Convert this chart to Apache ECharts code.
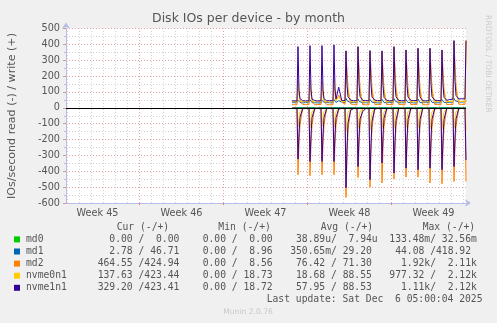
<!DOCTYPE html>
<html><head><meta charset="utf-8">
<script src="https://cdn.jsdelivr.net/npm/echarts@6/dist/echarts.min.js"></script>
<style>html,body{margin:0;padding:0;background:#f0f0f0;}#c{width:497px;height:323px;}</style>
</head><body><div id="c"></div>
<script>
// x values: days relative to Sun Nov 30 2025 00:00
const times = [
-8.29,
-7.875,-7.792,-7.708,-7.625,-7.4,-7.15,
-6.875,-6.792,-6.708,-6.625,-6.4,-6.15,
-5.875,-5.792,-5.708,-5.625,-5.4,-5.15,
-4.875,-4.792,-4.708,-4.625,-4.4,-4.15,
-3.875,-3.792,-3.708,-3.625,-3.4,-3.15,
-2.875,-2.792,-2.708,-2.625,-2.4,-2.15,
-1.875,-1.792,-1.708,-1.625,-1.4,-1.15,
-0.875,-0.792,-0.708,-0.625,-0.4,-0.15,
0.125,0.208,0.292,0.375,0.6,0.85,
1.125,1.208,1.292,1.375,1.6,1.85,
2.125,2.208,2.292,2.375,2.6,2.85,
3.125,3.208,3.292,3.375,3.6,3.85,
4.125,4.208,4.292,4.375,4.6,4.85,
5.125,5.208,5.292,5.375,5.6,5.85,
6.125,6.208];

const md0Times = [-8.29, 6.208];
const md0Read = [0, 0];
const md0Write = [0, 0];

const md1Read = [0.5,
0.2,3.1,1.4,0.7,0.3,0.2,
0.3,2.8,1.3,0.6,0.2,0.3,
0.2,3.4,1.5,0.8,0.3,0.2,
0.3,2.9,1.2,0.6,0.4,0.3,
0.4,4.2,1.9,0.9,0.3,0.2,
0.2,3.0,1.4,0.7,0.2,0.3,
0.3,3.6,1.6,0.8,0.3,0.2,
0.2,2.7,1.3,0.6,0.2,0.3,
0.3,3.2,1.5,0.7,0.3,0.2,
0.2,2.9,1.3,0.6,0.2,0.3,
0.3,3.1,1.4,0.7,0.3,0.2,
0.2,3.3,1.5,0.8,0.2,0.3,
0.3,3.0,1.4,0.6,0.3,0.2,
0.2,2.8,1.3,0.7,0.2,0.3,
0.3,2.78];
const md1Write = [33,
32,48,40,34,31,33,
33,50,41,33,32,31,
31,47,39,35,33,32,
32,52,42,34,45,36,
34,60,45,36,32,33,
33,55,42,34,31,32,
32,53,41,35,33,31,
31,54,42,33,32,33,
33,58,44,35,31,32,
32,52,41,34,33,31,
31,55,43,33,32,33,
33,54,42,35,31,32,
32,52,41,34,33,35,
36,60,45,38,37,36,
38,46.71];

const md2Read = [3,
4,422,230,105,6,4,
3,428,235,107,5,4,
4,422,232,105,6,3,
5,422,230,104,7,4,
4,565,310,140,8,5,
3,439,240,110,6,4,
4,500,275,125,7,3,
5,474,260,118,6,4,
4,449,245,112,5,3,
3,437,240,109,6,4,
4,437,240,110,5,4,
3,474,260,118,7,5,
4,479,263,120,6,3,
5,464,255,116,6,4,
4,464.55];
const md2Write = [20,
19,170,95,45,21,20,
20,175,98,44,19,21,
21,168,92,43,20,19,
20,180,100,47,80,38,
22,355,230,120,24,20,
20,380,245,125,21,19,
19,356,232,118,22,20,
21,354,228,116,20,21,
20,381,245,124,22,20,
19,360,235,118,21,20,
21,371,240,121,20,19,
20,371,240,122,22,21,
19,360,233,117,20,22,
21,419,270,138,23,22,
22,424.94];

const nvme0n1Read = [2,
3,120,60,25,4,3,
2,125,62,26,3,2,
3,118,58,24,4,3,
2,122,61,25,5,3,
3,150,75,30,6,4,
2,128,64,26,4,3,
3,140,70,28,5,2,
2,130,65,27,4,3,
3,126,63,26,3,2,
2,124,62,25,4,3,
3,127,63,26,3,2,
2,132,66,27,4,3,
3,135,67,28,5,3,
2,128,64,26,4,3,
3,137.63];
const nvme0n1Write = [38,
37,160,80,45,39,38,
38,165,82,44,37,39,
39,158,78,43,38,37,
38,170,85,46,70,40,
40,357,190,95,41,38,
38,383,200,100,39,37,
37,358,188,94,40,38,
39,356,186,93,38,39,
38,383,200,100,40,38,
37,362,190,95,39,38,
39,373,195,97,38,37,
38,373,195,98,40,39,
37,362,189,94,38,40,
39,421,220,110,41,40,
40,423.44];

const nvme1n1Read = [2,
3,323,160,60,5,3,
2,338,168,62,6,3,
3,338,165,61,5,2,
3,338,166,62,8,3,
4,504,250,95,15,4,
3,370,182,70,24,5,
4,453,225,85,8,3,
3,348,172,65,6,4,
4,411,205,78,5,3,
3,380,190,72,6,4,
4,390,195,74,5,3,
3,380,188,71,6,4,
4,390,193,73,5,3,
3,370,185,70,6,4,
4,329.20];
const nvme1n1Write = [44,
43,386,110,58,45,44,
44,392,115,55,46,43,
45,392,112,57,44,45,
44,397,118,56,130,47,
46,359,140,70,48,45,
45,386,150,72,47,46,
44,361,145,68,49,45,
46,359,140,66,47,44,
45,386,150,70,46,45,
44,365,142,68,47,46,
46,376,146,69,45,44,
45,376,147,70,48,46,
44,365,143,66,47,52,
55,424,165,78,56,57,
56,423.41];

const weekTicks = [-21, -14, -7, 0];
const dayTicks = [-27,-26,-25,-24,-23,-22,-20,-19,-18,-17,-16,-15,-13,-12,-11,-10,-9,-8,-6,-5,-4,-3,-2,-1,1,2,3,4,5,6];
const weekLabelPos = [-24.5, -17.5, -10.5, -3.5, 3.5];
const weekLabels = ['Week 45', 'Week 46', 'Week 47', 'Week 48', 'Week 49'];

const legendNames = ['md0', 'md1', 'md2', 'nvme0n1', 'nvme1n1'];
const legendColors = ['#00cc00', '#0066b3', '#ff8000', '#ffcc00', '#330099'];
const legendHeaders = ['Cur (-/+)', 'Min (-/+)', 'Avg (-/+)', 'Max (-/+)'];
const legendRows = [
  '  0.00 /  0.00    0.00 /  0.00    38.89u/  7.94u  133.48m/ 32.56m',
  '  2.78 / 46.71    0.00 /  8.96   350.65m/ 29.20    44.08 /418.92 ',
  '464.55 /424.94    0.00 /  8.56    76.42 / 71.30     1.92k/  2.11k',
  '137.63 /423.44    0.00 / 18.73    18.68 / 88.55   977.32 /  2.12k',
  '329.20 /423.41    0.00 / 18.72    57.95 / 88.53     1.11k/  2.12k'
];
const lastUpdate = 'Last update: Sat Dec  6 05:00:04 2025';

const chart = echarts.init(document.getElementById('c'), null, {renderer: 'canvas'});

function pairs(ts, vs, sign) { return ts.map((t, i) => [t, sign * vs[i]]); }

const seriesDefs = [
  ['md0', md0Times, md0Read, md0Write, legendColors[0]],
  ['md1', times, md1Read, md1Write, legendColors[1]],
  ['md2', times, md2Read, md2Write, legendColors[2]],
  ['nvme0n1', times, nvme0n1Read, nvme0n1Write, legendColors[3]],
  ['nvme1n1', times, nvme1n1Read, nvme1n1Write, legendColors[4]]
];
const series = [];
seriesDefs.forEach(([name, ts, rd, wr, col]) => {
  series.push({name: name + '_read', type: 'line', data: pairs(ts, rd, -1), showSymbol: false, symbol: 'none',
    lineStyle: {width: 1, color: col}, itemStyle: {color: col}, z: 2, animation: false});
  series.push({name: name + '_write', type: 'line', data: pairs(ts, wr, 1), showSymbol: false, symbol: 'none',
    lineStyle: {width: 1, color: col}, itemStyle: {color: col}, z: 2, animation: false});
});
// vertical grid lines
series[0].markLine = {silent: true, symbol: 'none', z: 1, animation: false, label: {show: false},
  data: dayTicks.map(v => ({xAxis: v, lineStyle: {color: '#d2d2d2', type: [1, 2], width: 1}}))
    .concat(weekTicks.map(v => ({xAxis: v, lineStyle: {color: '#e8a0a0', type: [1, 2], width: 1}})))};
// zero line
series[1].markLine = {silent: true, symbol: 'none', animation: false, label: {show: false},
  data: [{yAxis: 0, lineStyle: {color: '#000', type: 'solid', width: 1}}]};

const txt = '#555';
const graphic = [
  {type: 'text', x: 248.5, y: 19, style: {text: 'Disk IOs per device - by month', font: '12.5px "DejaVu Sans"', fill: txt, align: 'center', verticalAlign: 'middle', textAlign: 'center', textVerticalAlign: 'middle'}},
  {type: 'text', x: 12, y: 116, rotation: Math.PI / 2, style: {text: 'IOs/second read (-) / write (+)', font: '11.1px "DejaVu Sans"', fill: txt, align: 'center', verticalAlign: 'middle', textAlign: 'center', textVerticalAlign: 'middle'}},
  {type: 'text', x: 487.5, y: 64, rotation: -Math.PI / 2, style: {text: 'RRDTOOL / TOBI OETIKER', font: '7.6px "DejaVu Sans"', fill: '#cccccc', align: 'center', verticalAlign: 'middle', textAlign: 'center', textVerticalAlign: 'middle'}},
  {type: 'text', x: 248, y: 311.7, style: {text: 'Munin 2.0.76', font: '7.6px "DejaVu Sans"', fill: '#c8c8c8', align: 'center', verticalAlign: 'middle', textAlign: 'center', textVerticalAlign: 'middle'}},
  {type: 'text', x: 482.5, y: 299.3, style: {text: lastUpdate, font: '9.7px "DejaVu Sans Mono"', fill: txt, align: 'right', verticalAlign: 'middle', textAlign: 'right', textVerticalAlign: 'middle'}}
];
const headerX = [116.7, 218.3, 320.7, 422.7];
legendHeaders.forEach((h, i) => graphic.push({type: 'text', x: headerX[i], y: 227.7,
  style: {text: h, font: '9.7px "DejaVu Sans Mono"', fill: txt, align: 'left', verticalAlign: 'middle', textAlign: 'left', textVerticalAlign: 'middle'}}));
const rowY = [239.4, 251.5, 263.6, 275.7, 287.8];
legendNames.forEach((n, i) => {
  graphic.push({type: 'rect', shape: {x: 14, y: rowY[i] - 3, width: 6, height: 6}, style: {fill: legendColors[i]}});
  graphic.push({type: 'text', x: 26, y: rowY[i], style: {text: n, font: '9.7px "DejaVu Sans Mono"', fill: txt, align: 'left', verticalAlign: 'middle', textAlign: 'left', textVerticalAlign: 'middle'}});
  graphic.push({type: 'text', x: 97.7, y: rowY[i], style: {text: legendRows[i], font: '9.7px "DejaVu Sans Mono"', fill: txt, align: 'left', verticalAlign: 'middle', textAlign: 'left', textVerticalAlign: 'middle'}});
});

const axisCol = '#b8bce8';
chart.setOption({
  animation: false,
  backgroundColor: '#f0f0f0',
  grid: {left: 66, top: 28.5, width: 400, height: 174.5, show: true, backgroundColor: '#ffffff', borderWidth: 0},
  xAxis: {
    type: 'value', min: -27.125, max: 6.208,
    axisLine: {show: true, onZero: false, lineStyle: {color: axisCol}, symbol: ['none', 'arrow'], symbolSize: [6, 6], symbolOffset: [0, 5]},
    axisTick: {show: true, customValues: weekTicks, length: 2, lineStyle: {color: '#e08080'}},
    axisLabel: {show: true, customValues: weekLabelPos, color: txt, fontFamily: 'DejaVu Sans', fontSize: 9.7, margin: 5,
      formatter: v => { const k = weekLabelPos.findIndex(p => Math.abs(p - v) < 1e-6); return k >= 0 ? weekLabels[k] : ''; }},
    splitLine: {show: false}
  },
  yAxis: {
    type: 'value', min: -600, max: 500, interval: 100,
    axisLine: {show: true, onZero: false, lineStyle: {color: axisCol}, symbol: ['none', 'arrow'], symbolSize: [6, 6], symbolOffset: [0, 6]},
    axisTick: {show: true, length: 3, lineStyle: {color: '#e09090'}},
    minorTick: {show: true, splitNumber: 2, length: 2, lineStyle: {color: '#c0c0c0'}},
    axisLabel: {color: txt, fontFamily: 'DejaVu Sans', fontSize: 9.7, margin: 6},
    splitLine: {show: true, lineStyle: {color: '#e8a0a0', type: [1, 2], width: 1}},
    minorSplitLine: {show: true, lineStyle: {color: '#d2d2d2', type: [1, 2], width: 1}}
  },
  series: series,
  graphic: graphic
});
</script></body></html>
